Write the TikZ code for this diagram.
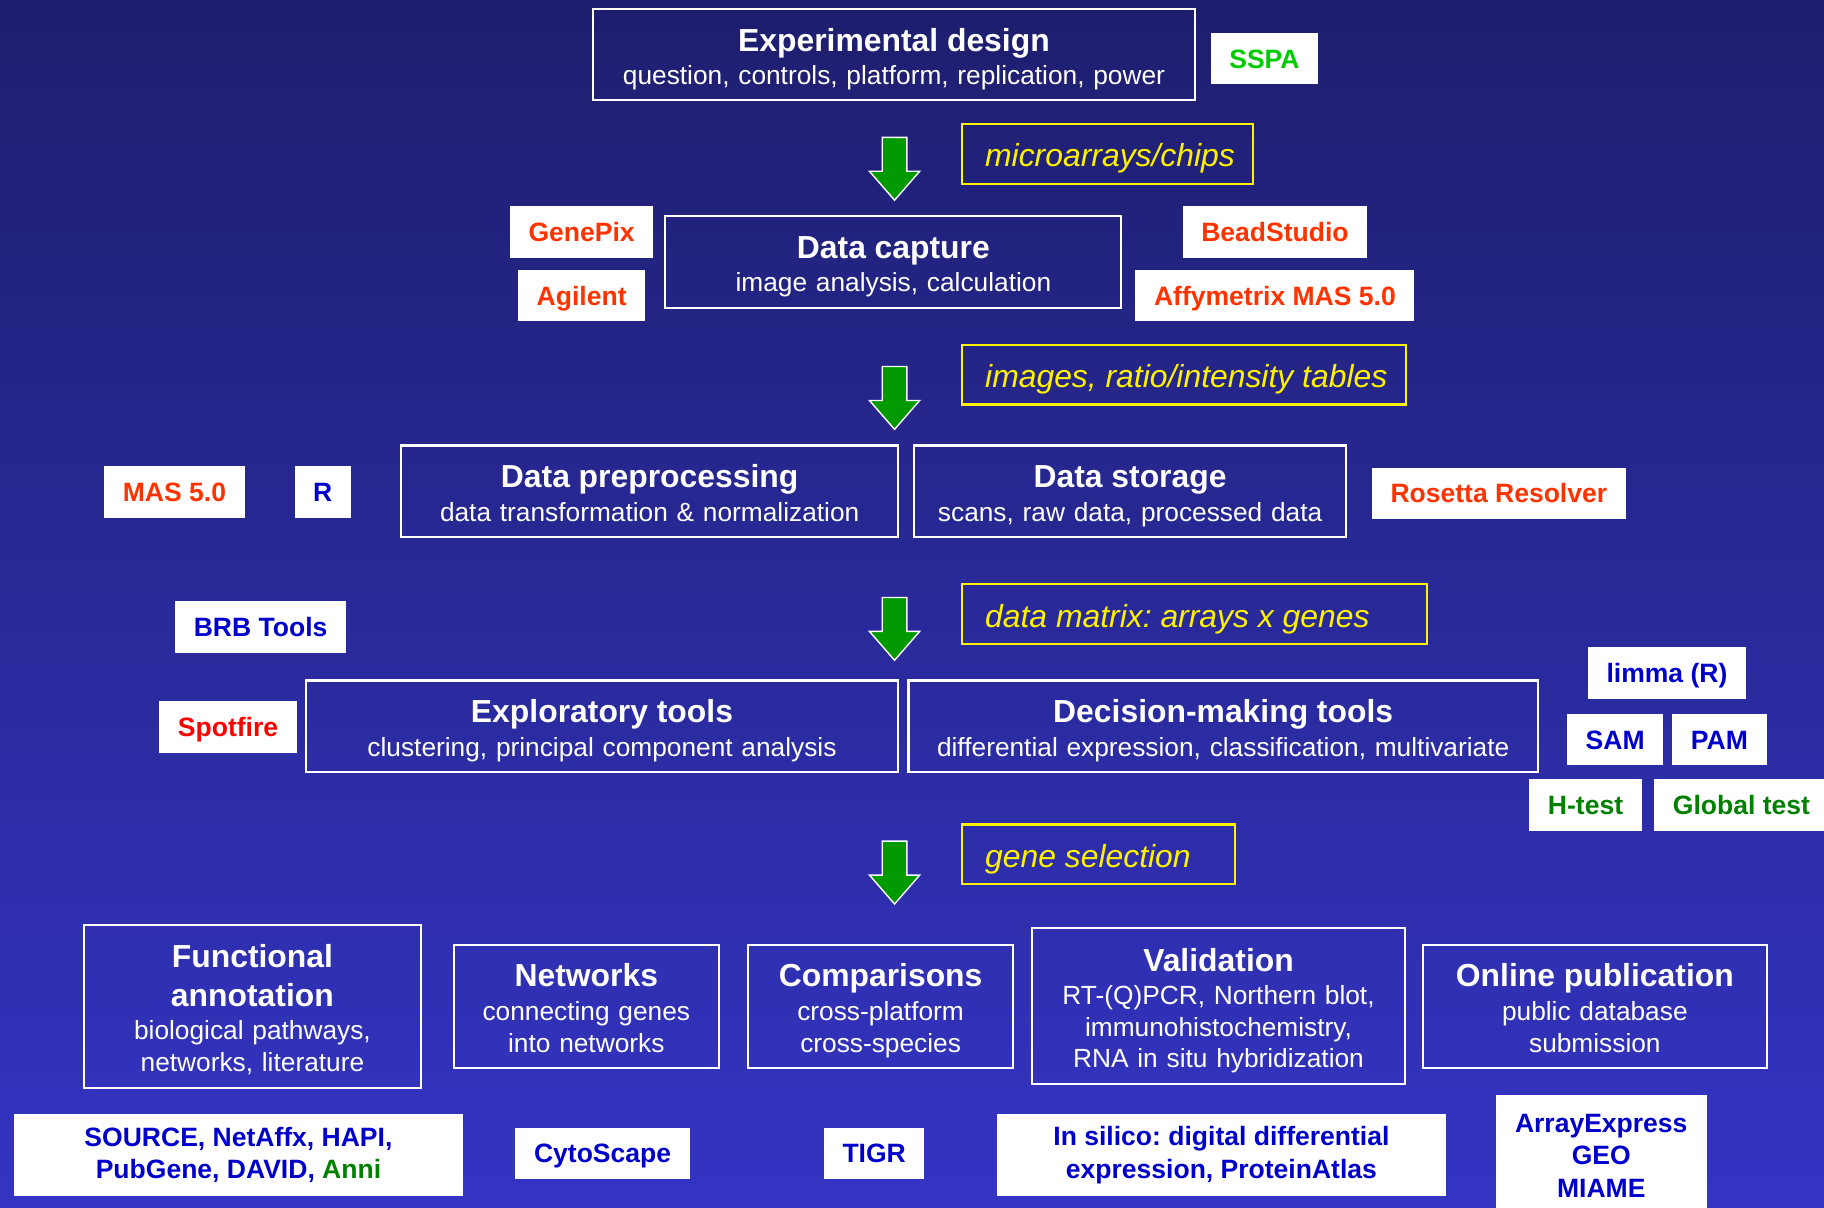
\documentclass[tikz,border=0pt]{standalone}
\usepackage{fontspec}
\setmainfont{Liberation Sans}
\usetikzlibrary{positioning,shapes.arrows}
\frenchspacing

\definecolor{bgtop}{RGB}{30,30,110}
\definecolor{bgbot}{RGB}{52,52,196}
\definecolor{toolred}{RGB}{255,51,0}
\definecolor{toolblue}{RGB}{0,0,204}
\definecolor{toolgreen}{RGB}{0,128,0}
\definecolor{sspagreen}{RGB}{0,204,0}
\definecolor{flowgreen}{RGB}{0,153,0}

\newcommand{\stagetext}[2]{{\fontsize{13.7}{16}\selectfont\bfseries #1}\\[1pt]#2\par\kern-\prevdepth\kern-1.5pt\hrule height0pt depth0pt}

\tikzset{
  stage/.style={rectangle,draw=white,line width=0.9pt,text=white,align=center,inner sep=0pt,font=\fontsize{11.3}{13.5}\selectfont},
  toolbase/.style={rectangle,fill=white,inner xsep=8pt,inner ysep=0pt,minimum height=22pt,align=center,font=\fontsize{11.4}{14}\selectfont\bfseries},
  tool/.style={toolbase,text height=10.5pt,text depth=2.3pt},
  note/.style={rectangle,draw=yellow,line width=0.9pt,text=yellow,anchor=west,inner xsep=10pt,minimum height=25.7pt,text height=11.5pt,text depth=0.5pt,font=\fontsize{13.7}{16}\selectfont\itshape},
  flow/.style={single arrow,shape border rotate=270,fill=flowgreen,draw=white,line width=0.6pt,inner sep=5pt,minimum height=27pt,minimum width=21pt,single arrow head extend=5.5pt,single arrow tip angle=82}
}

\begin{document}
\begin{tikzpicture}[x=0.5pt,y=-0.5pt]
\useasboundingbox (0,0) rectangle (1568,1038);
\shade[top color=bgtop,bottom color=bgbot] (0,0) rectangle (1568,1038);

% pipeline
\node[stage,text width=258.5pt,minimum height=39pt] (design) at (768.5,47) {\stagetext{Experimental design}{question, controls, platform, replication, power}};
\node[stage,text width=196pt,minimum height=39.5pt] (capture) at (768,225.5) {\stagetext{Data capture}{image analysis, calculation}};
\node[stage,text width=213.5pt,minimum height=39.5pt] (prep) at (558.5,422.5) {\stagetext{Data preprocessing}{data transformation \& normalization}};
\node[stage,text width=185.5pt,minimum height=39.5pt] (store) at (971.5,422.5) {\stagetext{Data storage}{scans, raw data, processed data}};
\node[stage,text width=254.5pt,minimum height=39.5pt] (explore) at (517.5,624.5) {\stagetext{Exploratory tools}{clustering, principal component analysis}};
\node[stage,text width=270.5pt,minimum height=39.5pt] (decide) at (1051.5,624.5) {\stagetext{Decision-making tools}{differential expression, classification, multivariate}};

% follow-up
\node[stage,text width=145pt,minimum height=70pt] (annot) at (217,865) {\stagetext{Functional\\[3pt]annotation}{biological pathways,\\networks, literature}};
\node[stage,text width=114pt,minimum height=53pt] (netw) at (504,865) {\stagetext{Networks}{connecting genes\\into networks}};
\node[stage,text width=114pt,minimum height=53pt] (compare) at (757,865) {\stagetext{Comparisons}{cross-platform\\cross-species}};
\node[stage,text width=160.5pt,minimum height=67pt] (valid) at (1047.5,865) {\stagetext{Validation}{RT-(Q)PCR, Northern blot,\\immunohistochemistry,\\RNA in situ hybridization}};
\node[stage,text width=148pt,minimum height=53pt] (online) at (1371,865) {\stagetext{Online publication}{public database\\submission}};

% arrows and what passes between steps
\node[flow] (flow1) at (769,139) {};
\node[flow] (flow2) at (769,336) {};
\node[flow] (flow3) at (769,534.5) {};
\node[flow] (flow4) at (769,744) {};
\node[note] (chips) at (826,132.5) {\makebox[105pt][l]{microarrays/chips}};
\node[note] (tables) at (826,322) {\makebox[171pt][l]{images, ratio/intensity tables}};
\node[note] (matrix) at (826,528) {\makebox[180pt][l]{data matrix: arrays x genes}};
\node[note] (genesel) at (826,734.5) {\makebox[97.5pt][l]{gene selection}};

% software
\node[tool,text=sspagreen] (sspa) at (1087,50.5) {SSPA};
\node[tool,text=toolred] (genepix) at (500,199.5) {GenePix};
\node[tool,text=toolred,below=5pt of genepix] (agilent) {Agilent};
\node[tool,text=toolred] (bead) at (1096,199.5) {BeadStudio};
\node[tool,text=toolred,below=5pt of bead] (affy) {Affymetrix MAS 5.0};
\node[tool,text=toolred] (mas) at (150,423) {MAS 5.0};
\node[tool,text=toolblue] (rpkg) at (277.5,423) {R};
\node[tool,text=toolred] (rosetta) at (1288.5,424) {Rosetta Resolver};
\node[tool,text=toolblue] (brb) at (224,539) {BRB Tools};
\node[tool,text=red] (spotfire) at (196,625) {Spotfire};
\node[tool,text=toolblue] (limma) at (1433,578.5) {limma (R)};
\node[tool,text=toolblue] (sam) at (1388.5,636) {SAM};
\node[tool,text=toolblue,right=3.5pt of sam] (pam) {PAM};
\node[tool,text=toolgreen] (htest) at (1363,692) {H-test};
\node[tool,text=toolgreen,right=5pt of htest] (global) {Global test};
\node[toolbase,text=toolblue,minimum width=193pt,minimum height=35.5pt] (source) at (205,993) {SOURCE, NetAffx, HAPI,\\PubGene, DAVID, \textcolor{toolgreen}{Anni}};
\node[tool,text=toolblue] (cyto) at (518,991.5) {CytoScape};
\node[tool,text=toolblue] (tigr) at (751.5,991.5) {TIGR};
\node[toolbase,text=toolblue,minimum width=193pt,minimum height=35.5pt] (silico) at (1050,993) {In silico: digital differential\\expression, ProteinAtlas};
\node[toolbase,text=toolblue,minimum width=90.5pt,minimum height=52pt,anchor=north] (arrayexp) at (1376.5,941) {ArrayExpress\\GEO\\MIAME};
\end{tikzpicture}
\end{document}
